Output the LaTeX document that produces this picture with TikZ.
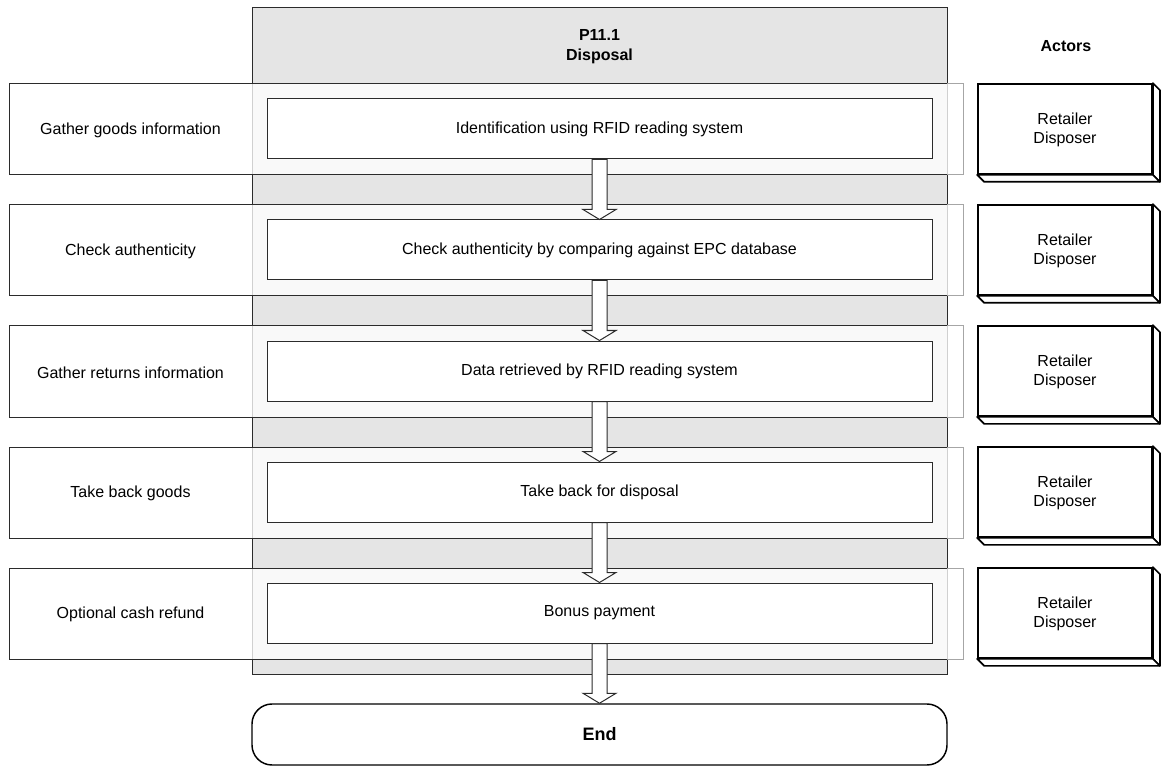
\documentclass[tikz,border=0pt]{standalone}
\usepackage{fontspec}
\setmainfont{Liberation Sans}
\usetikzlibrary{calc}
\definecolor{colfill}{HTML}{E5E5E5}
\definecolor{linec}{HTML}{2B2B2B}
\newcommand{\blockarrow}[2]{%
  \draw[arrowst] ($(#1.south)+(-7.5,0)$) -- ($(#2.north)+(-7.5,-10)$) -- ($(#2.north)+(-16.5,-10)$) -- (#2.north)
    -- ($(#2.north)+(16.5,-10)$) -- ($(#2.north)+(7.5,-10)$) -- ($(#1.south)+(7.5,0)$) -- cycle;}
\begin{document}
\begin{tikzpicture}[x=0.75pt,y=-0.75pt,
  every node/.style={font=\fontsize{12}{14.5}\selectfont, align=center, inner sep=0pt, text=black},
  inbox/.style={draw=linec, fill=white, minimum width=498.75pt, minimum height=45pt, line width=0.75pt},
  actor/.style={draw=black, fill=white, minimum width=130.5pt, minimum height=67.5pt, line width=1.3pt},
  side/.style={draw=black, fill=white, line width=1.3pt, line join=round},
  arrowst/.style={draw=linec, fill=white, line width=0.75pt},
  bandst/.style={draw=black!35, fill=white, fill opacity=0.78, line width=0.75pt},
  endst/.style={draw=black, fill=white, rounded corners=15pt, minimum width=521.25pt, minimum height=45.75pt, line width=1.1pt, font=\fontsize{13.5}{16}\selectfont\bfseries}
  ]
\useasboundingbox (0,0) rectangle (1166,766);
% column
\draw[draw=linec, fill=colfill, line width=0.75pt] (252,8) rectangle (947,674);
\node[font=\fontsize{12}{15}\selectfont\bfseries] (hdr) at (599.5,47) {P11.1\\Disposal};
\node[font=\fontsize{12}{15}\selectfont\bfseries] (act) at (1066,46) {Actors};
% bands
\foreach \i/\yc in {1/129.5,2/250.5,3/371.5,4/492.5,5/613.5}{
  \draw[bandst] (9,\yc-45.5) rectangle (963,\yc+45.5);
  \draw[draw=linec, line width=0.75pt] (947,\yc-45.5) -- (9,\yc-45.5) -- (9,\yc+45.5) -- (947,\yc+45.5);
}
% inner boxes
\node[inbox] (b1) at (599.5,129) {\raisebox{-1.2pt}{Identification using RFID reading system}};
\node[inbox] (b2) at (599.5,250) {\raisebox{-1.2pt}{Check authenticity by comparing against EPC database}};
\node[inbox] (b3) at (599.5,371) {\raisebox{-1.2pt}{Data retrieved by RFID reading system}};
\node[inbox] (b4) at (599.5,492) {\raisebox{-1.2pt}{Take back for disposal}};
\node[inbox] (b5) at (599.5,613) {\raisebox{-1.2pt}{Bonus payment}};
% left labels
\node (l1) at (130.5,130.5) {Gather goods information};
\node (l2) at (130.5,251.5) {Check authenticity};
\node (l3) at (130.5,372.5) {Gather returns information};
\node (l4) at (130.5,493.5) {Take back goods};
\node (l5) at (130.5,614.5) {Optional cash refund};
% end
\node[endst] (end) at (599.5,734.5) {End};
% arrows
\blockarrow{b1}{b2}
\blockarrow{b2}{b3}
\blockarrow{b3}{b4}
\blockarrow{b4}{b5}
\blockarrow{b5}{end}
% actors
\foreach \i/\yc in {1/129,2/250,3/371,4/492,5/613}{
  \node[actor] (a\i) at (1065,\yc) {};
  \node (t\i) at (1065,\yc+1) {Retailer\\Disposer};
  \draw[side] (a\i.north east) -- ($(a\i.north east)+(7,7)$) -- ($(a\i.south east)+(7,7)$) -- (a\i.south east) -- cycle;
  \draw[side] (a\i.south west) -- ($(a\i.south west)+(7,7)$) -- ($(a\i.south east)+(7,7)$) -- (a\i.south east) -- cycle;
}
\end{tikzpicture}
\end{document}
